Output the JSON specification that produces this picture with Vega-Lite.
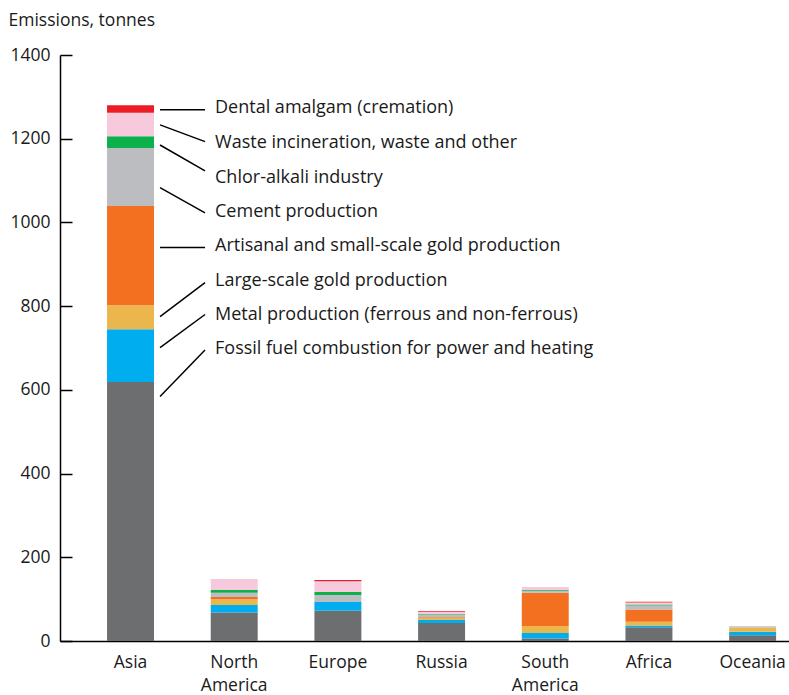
{
  "$schema": "https://vega.github.io/schema/vega-lite/v6.json",
  "width": 729,
  "height": 586,
  "autosize": {"type": "none"},
  "padding": {"left": 60, "top": 55, "right": 0, "bottom": 54},
  "background": "white",
  "config": {
    "view": {"stroke": null},
    "font": "Open Sans",
    "axis": {"labelFont": "Open Sans", "titleFont": "Open Sans", "labelColor": "#1a1a1a", "titleColor": "#1a1a1a"}
  },
  "datasets": {
    "emissions": [
      {"region": "Asia", "source": "Fossil fuel combustion for power and heating", "ord": 1, "value": 619},
      {"region": "Asia", "source": "Metal production (ferrous and non-ferrous)", "ord": 2, "value": 126},
      {"region": "Asia", "source": "Large-scale gold production", "ord": 3, "value": 57},
      {"region": "Asia", "source": "Artisanal and small-scale gold production", "ord": 4, "value": 237},
      {"region": "Asia", "source": "Cement production", "ord": 5, "value": 139},
      {"region": "Asia", "source": "Chlor-alkali industry", "ord": 6, "value": 28},
      {"region": "Asia", "source": "Waste incineration, waste and other", "ord": 7, "value": 56},
      {"region": "Asia", "source": "Dental amalgam (cremation)", "ord": 8, "value": 18},

      {"region": "North America", "source": "Fossil fuel combustion for power and heating", "ord": 1, "value": 68},
      {"region": "North America", "source": "Metal production (ferrous and non-ferrous)", "ord": 2, "value": 18},
      {"region": "North America", "source": "Large-scale gold production", "ord": 3, "value": 14},
      {"region": "North America", "source": "Artisanal and small-scale gold production", "ord": 4, "value": 5},
      {"region": "North America", "source": "Cement production", "ord": 5, "value": 10},
      {"region": "North America", "source": "Chlor-alkali industry", "ord": 6, "value": 7},
      {"region": "North America", "source": "Waste incineration, waste and other", "ord": 7, "value": 26},

      {"region": "Europe", "source": "Fossil fuel combustion for power and heating", "ord": 1, "value": 72},
      {"region": "Europe", "source": "Metal production (ferrous and non-ferrous)", "ord": 2, "value": 21},
      {"region": "Europe", "source": "Cement production", "ord": 5, "value": 17},
      {"region": "Europe", "source": "Chlor-alkali industry", "ord": 6, "value": 7},
      {"region": "Europe", "source": "Waste incineration, waste and other", "ord": 7, "value": 26},
      {"region": "Europe", "source": "Dental amalgam (cremation)", "ord": 8, "value": 3},

      {"region": "Russia", "source": "Fossil fuel combustion for power and heating", "ord": 1, "value": 43},
      {"region": "Russia", "source": "Metal production (ferrous and non-ferrous)", "ord": 2, "value": 7},
      {"region": "Russia", "source": "Large-scale gold production", "ord": 3, "value": 5},
      {"region": "Russia", "source": "Artisanal and small-scale gold production", "ord": 4, "value": 2},
      {"region": "Russia", "source": "Cement production", "ord": 5, "value": 5},
      {"region": "Russia", "source": "Chlor-alkali industry", "ord": 6, "value": 2},
      {"region": "Russia", "source": "Waste incineration, waste and other", "ord": 7, "value": 5},
      {"region": "Russia", "source": "Dental amalgam (cremation)", "ord": 8, "value": 2},

      {"region": "South America", "source": "Fossil fuel combustion for power and heating", "ord": 1, "value": 6},
      {"region": "South America", "source": "Metal production (ferrous and non-ferrous)", "ord": 2, "value": 13},
      {"region": "South America", "source": "Large-scale gold production", "ord": 3, "value": 17},
      {"region": "South America", "source": "Artisanal and small-scale gold production", "ord": 4, "value": 79},
      {"region": "South America", "source": "Cement production", "ord": 5, "value": 5},
      {"region": "South America", "source": "Chlor-alkali industry", "ord": 6, "value": 2},
      {"region": "South America", "source": "Waste incineration, waste and other", "ord": 7, "value": 7},

      {"region": "Africa", "source": "Fossil fuel combustion for power and heating", "ord": 1, "value": 33},
      {"region": "Africa", "source": "Metal production (ferrous and non-ferrous)", "ord": 2, "value": 4},
      {"region": "Africa", "source": "Large-scale gold production", "ord": 3, "value": 9},
      {"region": "Africa", "source": "Artisanal and small-scale gold production", "ord": 4, "value": 29},
      {"region": "Africa", "source": "Cement production", "ord": 5, "value": 10},
      {"region": "Africa", "source": "Chlor-alkali industry", "ord": 6, "value": 2},
      {"region": "Africa", "source": "Waste incineration, waste and other", "ord": 7, "value": 5},
      {"region": "Africa", "source": "Dental amalgam (cremation)", "ord": 8, "value": 2},

      {"region": "Oceania", "source": "Fossil fuel combustion for power and heating", "ord": 1, "value": 14},
      {"region": "Oceania", "source": "Metal production (ferrous and non-ferrous)", "ord": 2, "value": 8},
      {"region": "Oceania", "source": "Large-scale gold production", "ord": 3, "value": 10},
      {"region": "Oceania", "source": "Cement production", "ord": 5, "value": 3}
    ],
    "notes": [
      {"region": "Asia", "label": "Dental amalgam (cremation)", "yBar": 1269, "yEnd": 1269, "yText": 1273},
      {"region": "Asia", "label": "Waste incineration, waste and other", "yBar": 1233, "yEnd": 1193, "yText": 1190},
      {"region": "Asia", "label": "Chlor-alkali industry", "yBar": 1185, "yEnd": 1123, "yText": 1106},
      {"region": "Asia", "label": "Cement production", "yBar": 1083, "yEnd": 1023, "yText": 1025},
      {"region": "Asia", "label": "Artisanal and small-scale gold production", "yBar": 940, "yEnd": 940, "yText": 944},
      {"region": "Asia", "label": "Large-scale gold production", "yBar": 775, "yEnd": 856, "yText": 860},
      {"region": "Asia", "label": "Metal production (ferrous and non-ferrous)", "yBar": 701, "yEnd": 780, "yText": 779},
      {"region": "Asia", "label": "Fossil fuel combustion for power and heating", "yBar": 584, "yEnd": 695, "yText": 698}
    ]
  },
  "layer": [
    {
      "data": {"name": "emissions"},
      "mark": {"type": "bar"},
      "encoding": {
        "x": {
          "field": "region", "type": "nominal",
          "scale": {
            "domain": ["Asia", "North America", "Europe", "Russia", "South America", "Africa", "Oceania"],
            "paddingInner": 0.547, "paddingOuter": 0.289, "align": 0.785
          },
          "axis": {
            "title": null, "ticks": false, "labelAngle": 0, "domainColor": "#000000", "domainWidth": 1.5,
            "labelFontSize": 17.5, "labelPadding": 12, "labelLineHeight": 23,
            "labelExpr": "split(datum.label, ' ')"
          }
        },
        "y": {
          "aggregate": "sum", "field": "value", "type": "quantitative", "stack": "zero",
          "scale": {"domain": [0, 1400], "nice": false},
          "axis": {
            "title": "Emissions, tonnes", "values": [0, 200, 400, 600, 800, 1000, 1200, 1400],
            "format": "d",
            "grid": false, "tickSize": -12, "tickColor": "#000000", "tickWidth": 1.5,
            "domainColor": "#000000", "domainWidth": 1.5,
            "labelFontSize": 17.5, "labelPadding": 22,
            "titleAngle": 0, "titleFontSize": 17.5, "titleFontWeight": "normal",
            "titleAlign": "left", "titleBaseline": "middle", "titleX": -52, "titleY": -35
          }
        },
        "color": {
          "field": "source", "type": "nominal", "legend": null,
          "scale": {
            "domain": [
              "Fossil fuel combustion for power and heating",
              "Metal production (ferrous and non-ferrous)",
              "Large-scale gold production",
              "Artisanal and small-scale gold production",
              "Cement production",
              "Chlor-alkali industry",
              "Waste incineration, waste and other",
              "Dental amalgam (cremation)"
            ],
            "range": ["#6d6e70", "#00aeef", "#ebb74d", "#f37021", "#bcbdc0", "#0db14b", "#f7c9dd", "#ed1c24"]
          }
        },
        "order": {"field": "ord", "type": "quantitative"}
      }
    },
    {
      "data": {"name": "notes"},
      "mark": {"type": "rule", "color": "#000000", "strokeWidth": 1.5, "xOffset": 29.5, "x2Offset": 74.5},
      "encoding": {
        "x": {"field": "region", "type": "nominal"},
        "x2": {"field": "region"},
        "y": {"field": "yBar", "type": "quantitative"},
        "y2": {"field": "yEnd"}
      }
    },
    {
      "data": {"name": "notes"},
      "mark": {"type": "text", "align": "left", "baseline": "middle", "dx": 84.5, "fontSize": 18, "font": "Open Sans", "color": "#1a1a1a"},
      "encoding": {
        "x": {"field": "region", "type": "nominal"},
        "y": {"field": "yText", "type": "quantitative"},
        "text": {"field": "label"}
      }
    }
  ]
}
